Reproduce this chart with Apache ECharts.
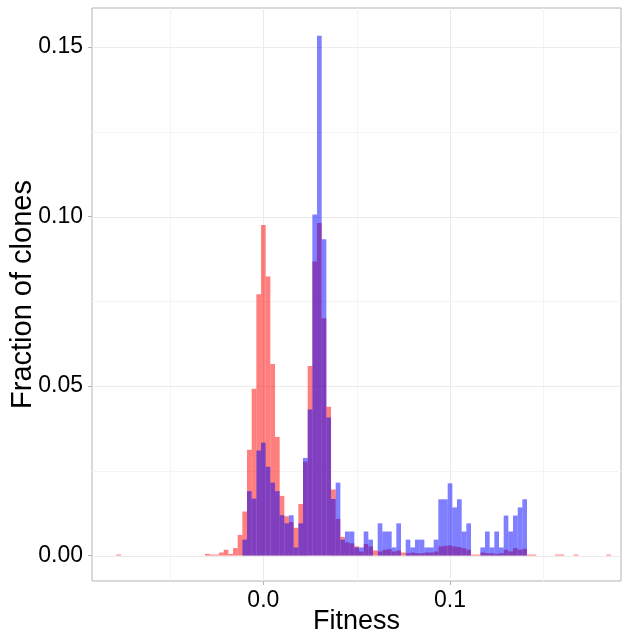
<!DOCTYPE html>
<html><head><meta charset="utf-8">
<script src="https://cdn.jsdelivr.net/npm/echarts@6/dist/echarts.min.js"></script>
<style>html,body{margin:0;padding:0;background:#fff}#c{width:623px;height:638px}</style>
</head><body><div id="c"></div>
<script>
// ---- data ----
const binWidth = 0.0025;
const fitnessBins = [-0.03, -0.0275, -0.025, -0.0225, -0.02, -0.0175, -0.015, -0.0125, -0.01, -0.0075,
  -0.005, -0.0025, 0, 0.0025, 0.005, 0.0075, 0.01, 0.0125, 0.015, 0.0175,
  0.02, 0.0225, 0.025, 0.0275, 0.03, 0.0325, 0.035, 0.0375, 0.04, 0.0425,
  0.045, 0.0475, 0.05, 0.0525, 0.055, 0.0575, 0.06, 0.0625, 0.065, 0.0675,
  0.07, 0.0725, 0.075, 0.0775, 0.08, 0.0825, 0.085, 0.0875, 0.09, 0.0925,
  0.095, 0.0975, 0.1, 0.1025, 0.105, 0.1075, 0.11, 0.1125, 0.115, 0.1175,
  0.12, 0.1225, 0.125, 0.1275, 0.13, 0.1325, 0.135, 0.1375, 0.14, 0.1425, 0.145];
const redFraction = [0.0005, 0.0003, 0.0003, 0.0009, 0.0017, 0.0005, 0.0022, 0.0061, 0.013, 0.0312,
  0.0492, 0.0771, 0.0975, 0.0823, 0.0565, 0.035, 0.0176, 0.0116, 0.0099, 0.0082,
  0.0152, 0.0277, 0.0559, 0.0867, 0.0981, 0.07, 0.0439, 0.0195, 0.0108, 0.0055,
  0.0039, 0.0036, 0.0027, 0.0012, 0.0034, 0.0027, 0.0015, 0.0012, 0.0017, 0.0019,
  0.0012, 0.0015, 0.0009, 0.0007, 0.0009, 0.0007, 0.0007, 0.0009, 0.0009, 0.0012,
  0.0027, 0.0029, 0.003, 0.0027, 0.0025, 0.0022, 0.0017, 0.0003, 0.0003, 0.0009,
  0.0007, 0.0007, 0.0005, 0.0007, 0.0017, 0.0012, 0.0022, 0.0017, 0.002, 0.0003, 0.0003];
const blueFraction = [0, 0, 0, 0, 0, 0, 0, 0, 0.0047, 0.019,
  0.0168, 0.031, 0.0333, 0.0262, 0.0215, 0.019, 0.0119, 0.0095, 0.0119, 0.0024,
  0.0095, 0.0288, 0.0431, 0.1006, 0.1533, 0.0933, 0.0407, 0.0167, 0.0215, 0.0047,
  0.0071, 0.0071, 0.0024, 0.0024, 0.0071, 0.0047, 0, 0.0095, 0.0071, 0.0071,
  0.0024, 0.0095, 0, 0.0047, 0.0024, 0.0047, 0.0047, 0.0024, 0.0024, 0.0047,
  0.0166, 0.0166, 0.0213, 0.0142, 0.0166, 0.0071, 0.0095, 0, 0, 0.0024,
  0.0071, 0.0024, 0.0071, 0.0024, 0.0118, 0.0071, 0.0118, 0.0142, 0.0166, 0, 0];
const redTailFitness = [-0.0775, 0.1575, 0.16, 0.1675, 0.185];
const redTailFraction = [0.0003, 0.0003, 0.0003, 0.0003, 0.0003];
const xTickValues = [0.0, 0.1];
const xMinorGrid = [-0.05, 0.05, 0.15];
const yTickValues = [0.00, 0.05, 0.10, 0.15];
const yMinorGrid = [0.025, 0.075, 0.125];

// ---- build ----
const xMin = -0.0918, xMax = 0.1916, yMin = -0.0075, yMax = 0.1615;
const redData = fitnessBins.map((f, i) => [f, redFraction[i]])
  .concat(redTailFitness.map((f, i) => [f, redTailFraction[i]]));
const blueData = fitnessBins.map((f, i) => [f, blueFraction[i]]);

function histItem(params, api) {
  const x = api.value(0), y = api.value(1);
  if (!y) return null;
  const p0 = api.coord([x - binWidth / 2, y]);
  const p1 = api.coord([x + binWidth / 2, 0]);
  return { type: 'rect', shape: { x: p0[0], y: p0[1], width: p1[0] - p0[0], height: p1[1] - p0[1] },
    style: { fill: api.visual('color') } };
}
// all grid lines drawn by one item, positions through the axis scales
function gridItem(params, api) {
  const cs = params.coordSys;
  const kids = [];
  const vl = (v, c) => { const px = Math.round(api.coord([v, 0])[0]);
    kids.push({ type: 'rect', shape: { x: px, y: cs.y, width: 1, height: cs.height }, style: { fill: c } }); };
  const hl = (v, c) => { const py = Math.round(api.coord([0, v])[1]);
    kids.push({ type: 'rect', shape: { x: cs.x, y: py, width: cs.width, height: 1 }, style: { fill: c } }); };
  xMinorGrid.forEach(v => vl(v, '#f4f4f4'));
  yMinorGrid.forEach(v => hl(v, '#f4f4f4'));
  xTickValues.forEach(v => vl(v, '#ebebeb'));
  yTickValues.forEach(v => hl(v, '#ebebeb'));
  return { type: 'group', children: kids };
}
const font = 'Liberation Sans';
const chart = echarts.init(document.getElementById('c'), null, { renderer: 'canvas' });
chart.setOption({
  animation: false,
  backgroundColor: '#ffffff',
  grid: { left: 92, top: 8, right: 2, bottom: 57, containLabel: false, outerBoundsMode: 'none',
    show: true, borderColor: '#b3b3b3', borderWidth: 1, backgroundColor: 'transparent' },
  xAxis: {
    type: 'value', min: xMin, max: xMax,
    name: 'Fitness', nameLocation: 'middle', nameGap: 27, nameMoveOverlap: false,
    nameTextStyle: { fontFamily: font, fontSize: 27, color: '#000' },
    axisLine: { show: false, onZero: false },
    splitLine: { show: false },
    axisTick: { show: true, customValues: xTickValues, length: 4, lineStyle: { color: '#b3b3b3' } },
    axisLabel: { customValues: xTickValues, margin: 8, fontFamily: font, fontSize: 23, color: '#000',
      formatter: v => v.toFixed(1) }
  },
  yAxis: {
    type: 'value', min: yMin, max: yMax,
    name: 'Fraction of clones', nameLocation: 'middle', nameGap: 55, nameRotate: 90, nameMoveOverlap: false,
    nameTextStyle: { fontFamily: font, fontSize: 29, color: '#000' },
    axisLine: { show: false, onZero: false },
    splitLine: { show: false },
    axisTick: { show: true, customValues: yTickValues, length: 4, lineStyle: { color: '#b3b3b3' } },
    axisLabel: { customValues: yTickValues, margin: 9, fontFamily: font, fontSize: 23, color: '#000',
      formatter: v => v.toFixed(2) }
  },
  series: [
    { type: 'custom', silent: true, z: 1, renderItem: gridItem, data: [[0, 0]], encode: { x: 0, y: 1 } },
    { type: 'custom', name: 'red', z: 2, renderItem: histItem, data: redData, encode: { x: 0, y: 1 },
      itemStyle: { color: 'rgba(255,0,0,0.5)' } },
    { type: 'custom', name: 'blue', z: 3, renderItem: histItem, data: blueData, encode: { x: 0, y: 1 },
      itemStyle: { color: 'rgba(0,0,255,0.5)' } }
  ]
});
</script></body></html>
